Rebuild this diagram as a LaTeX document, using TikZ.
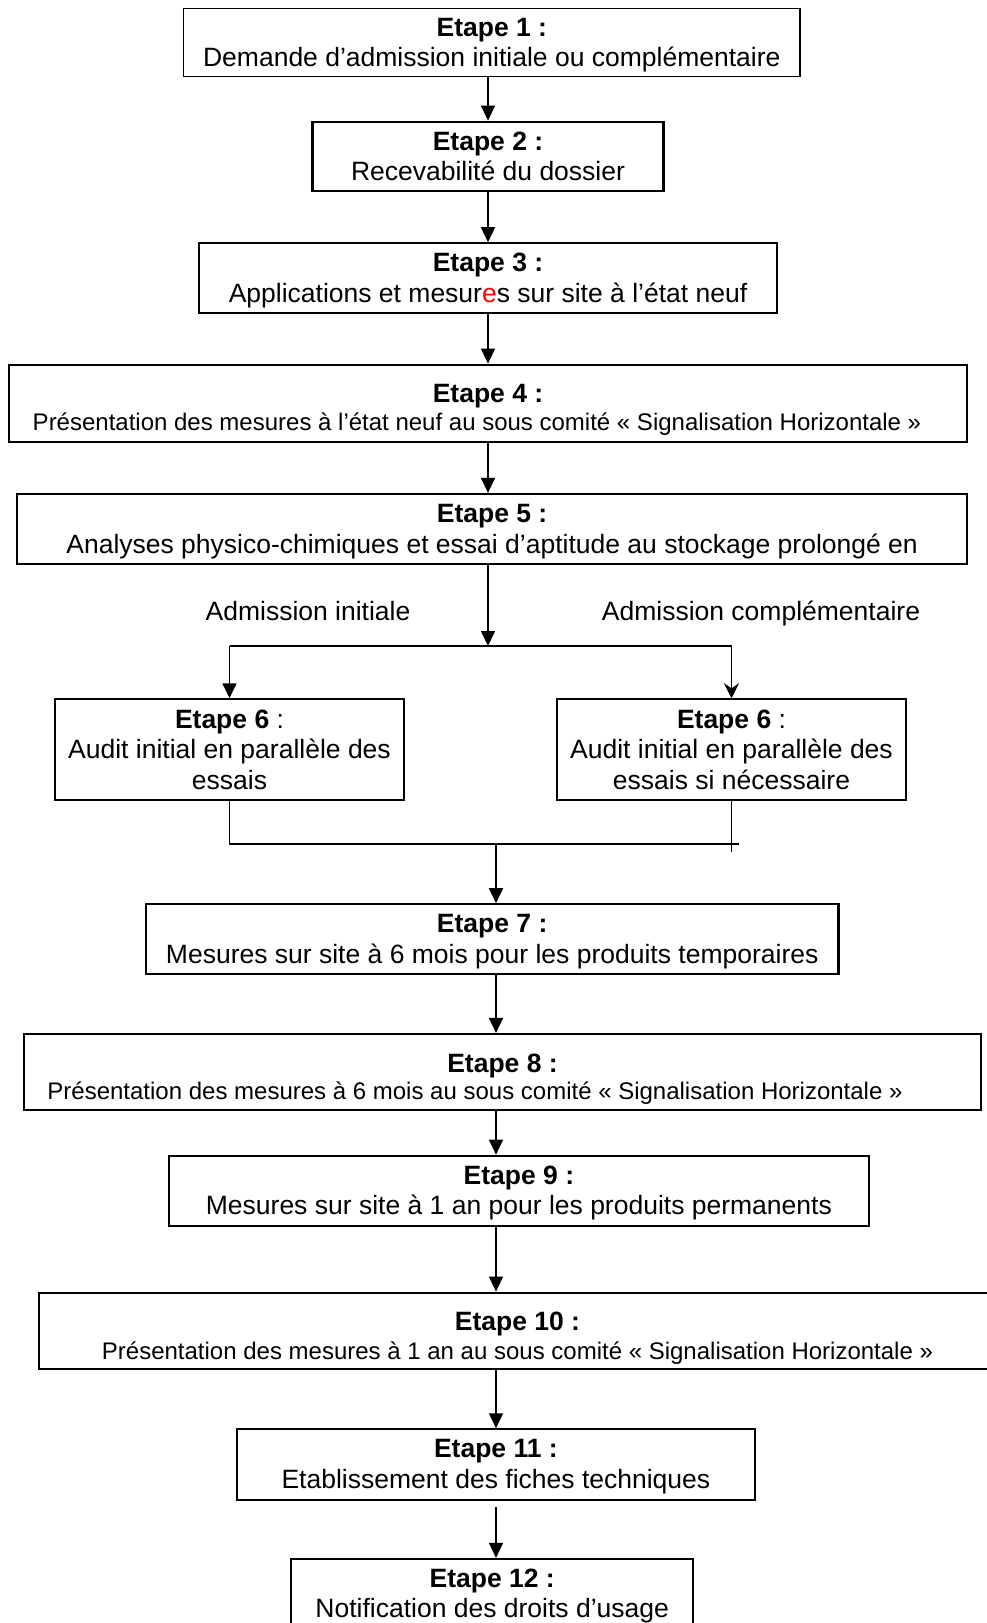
\documentclass[tikz,border=0pt]{standalone}
\usepackage{fontspec}
\setmainfont{Liberation Sans}
\usetikzlibrary{arrows.meta}
\tikzset{
  stepbox/.style={draw=black, line width=2.2pt, rectangle, inner sep=0pt, align=center,
    font=\fontsize{26.5}{30.5}\selectfont},
  thinbox/.style={stepbox, line width=1.3pt},
  arr/.style={line width=1.6pt, -{Triangle[width=14pt,length=15pt]}},
  arrs/.style={line width=1.6pt, -{Stealth[width=15pt,length=15pt,inset=5pt]}},
  plain/.style={line width=1.6pt},
  lbl/.style={inner sep=0pt, anchor=base, font=\fontsize{26.5}{30.5}\selectfont}
}
\newcommand{\smallline}{\fontsize{24}{28}\selectfont}
\newcommand{\topstrut}[1]{\rule{0pt}{#1}}
\begin{document}
\begin{tikzpicture}[x=1pt,y=-1pt]
\useasboundingbox (0,0) rectangle (986,1623);
\fill[white] (0,0) rectangle (986,1623);

\node[thinbox, minimum width=616.4pt, minimum height=68.4pt] (b1) at (491.8,42.5)
  {\topstrut{23.5pt}\textbf{Etape 1 :}\\Demande d’admission initiale ou complémentaire};
\node[stepbox, minimum width=351pt, minimum height=69pt] (b2) at (488,156.2)
  {\textbf{Etape 2 :}\\Recevabilité du dossier};
\node[stepbox, minimum width=578.7pt, minimum height=69.4pt] (b3) at (488,278)
  {\topstrut{23.5pt}\textbf{Etape 3 :}\\Applications et mesur{\color{red}e}s sur site à l’état neuf};
\node[stepbox, minimum width=958.5pt, minimum height=77.6pt] (b4) at (488,403.5)
  {\topstrut{31.4pt}\textbf{Etape 4 :}\\[-2pt]{\smallline\hspace*{-22pt}Présentation des mesures à l’état neuf au sous comité «~Signalisation Horizontale~»}};
\node[stepbox, minimum width=950.3pt, minimum height=70.3pt] (b5) at (492.1,529.1)
  {\topstrut{23pt}\textbf{Etape 5 :}\\Analyses physico-chimiques et essai d’aptitude au stockage prolongé en};

\node[lbl] (lab1) at (308,620.5) {Admission initiale};
\node[lbl] (lab2) at (761,620.5) {Admission complémentaire};

\node[stepbox, minimum width=349.7pt, minimum height=100.7pt] (b6l) at (229.5,749.7)
  {\textbf{Etape 6} :\\Audit initial en parallèle des\\essais};
\node[stepbox, minimum width=349.7pt, minimum height=100.7pt] (b6r) at (731.5,749.7)
  {\textbf{Etape 6} :\\Audit initial en parallèle des\\essais si nécessaire};

\node[stepbox, minimum width=692.4pt, minimum height=70pt] (b7) at (492.2,939.3)
  {\topstrut{22.5pt}\textbf{Etape 7 :}\\Mesures sur site à 6 mois pour les produits temporaires};
\node[stepbox, minimum width=957pt, minimum height=76pt] (b8) at (502.5,1072)
  {\topstrut{32.6pt}\textbf{Etape 8 :}\\[-3pt]{\smallline\hspace*{-55pt}Présentation des mesures à 6 mois au sous comité «~Signalisation Horizontale~»}};
\node[stepbox, minimum width=700.6pt, minimum height=70.3pt] (b9) at (518.9,1190.9)
  {\topstrut{22.5pt}\textbf{Etape 9 :}\\Mesures sur site à 1 an pour les produits permanents};
\node[stepbox, minimum width=957pt, minimum height=76pt] (b10) at (517.5,1330.7)
  {\topstrut{33.4pt}\textbf{Etape 10 :}\\[-2pt]{\smallline Présentation des mesures à 1 an au sous comité «~Signalisation Horizontale~»}};
\node[stepbox, minimum width=517.7pt, minimum height=70.7pt] (b11) at (495.9,1464.7)
  {\topstrut{22.5pt}\textbf{Etape 11 :}\\Etablissement des fiches techniques};
\node[stepbox, minimum width=402.3pt, minimum height=70pt] (b12) at (492.2,1594)
  {\topstrut{22.5pt}\textbf{Etape 12 :}\\Notification des droits d’usage};

% coordinates
\coordinate (split) at (488,646);
\coordinate (merge) at (496,844);
\coordinate (mergeend) at (739.3,844);
\coordinate (rtail) at (731.5,851.7);

% connectors
\draw[arr] (b1.south -| b2.north) -- (b2.north);
\draw[arr] (b2.south) -- (b3.north);
\draw[arr] (b3.south) -- (b4.north);
\draw[arr] (b4.south) -- (b5.north -| b4.south);
\draw[arr] (b5.south -| split) -- (split);
\draw[plain] (b6l.north |- split) -- (b6r.north |- split);
\draw[arr] (b6l.north |- split) -- (b6l.north);
\draw[arrs] (b6r.north |- split) -- (b6r.north);
\draw[plain] (b6l.south) -- (b6l.south |- merge) -- (mergeend);
\draw[plain] (b6r.south) -- (rtail);
\draw[arr] (merge) -- (b7.north -| merge);
\draw[arr] (b7.south -| merge) -- (b8.north -| merge);
\draw[arr] (b8.south -| merge) -- (b9.north -| merge);
\draw[arr] (b9.south -| merge) -- (b10.north -| merge);
\draw[arr] (b10.south -| merge) -- (b11.north -| merge);
\draw[arr] ([yshift=-5.7pt]b11.south -| merge) -- (b12.north -| merge);
\end{tikzpicture}
\end{document}
